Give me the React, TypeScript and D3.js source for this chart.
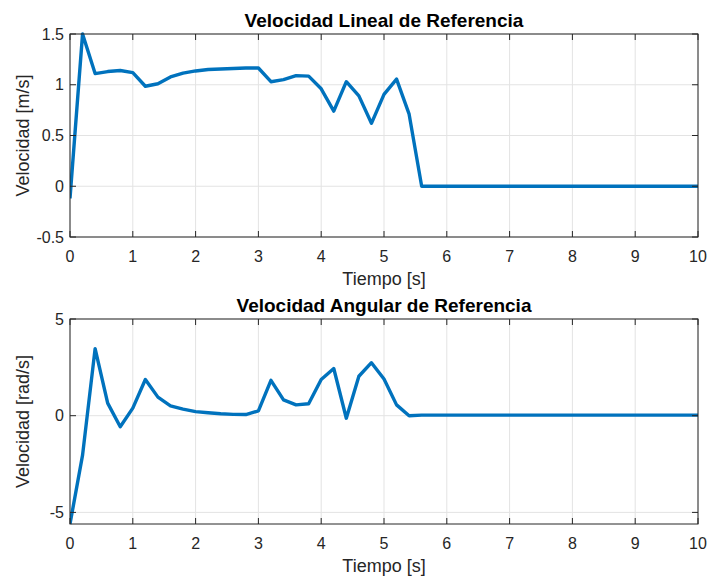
import * as d3 from "d3";

// time base, 0.2 s step
const tiempo = d3.range(0, 51).map((i) => +(i * 0.2).toFixed(1));

const velLineal = [
  -0.12, 1.5, 1.11, 1.13, 1.14, 1.12, 0.985, 1.01, 1.077, 1.115, 1.136,
  1.15, 1.155, 1.16, 1.165, 1.165, 1.03, 1.05, 1.09, 1.085, 0.96,
  0.74, 1.03, 0.89, 0.62, 0.905, 1.055, 0.71, 0, 0, 0,
  0, 0, 0, 0, 0, 0, 0, 0, 0, 0,
  0, 0, 0, 0, 0, 0, 0, 0, 0, 0,
];

const velAngular = [
  -5.6, -2.04, 3.47, 0.65, -0.57, 0.39, 1.87, 0.96, 0.51, 0.34, 0.21,
  0.15, 0.1, 0.07, 0.06, 0.25, 1.83, 0.82, 0.56, 0.62, 1.87,
  2.44, -0.13, 2.04, 2.74, 1.9, 0.56, 0.0, 0.03, 0.03, 0.03,
  0.03, 0.03, 0.03, 0.03, 0.03, 0.03, 0.03, 0.03, 0.03, 0.03,
  0.03, 0.03, 0.03, 0.03, 0.03, 0.03, 0.03, 0.03, 0.03, 0.03,
];

const xTicks = [0, 1, 2, 3, 4, 5, 6, 7, 8, 9, 10];
const yTicksLineal = [-0.5, 0, 0.5, 1, 1.5];
const yTicksAngular = [-5, 0, 5];

const FONT = "'Liberation Sans', Arial, Helvetica, sans-serif";
const AXIS = "#262626";
const GRID = "#e3e3e3";
const LINE = "#0072BD";

const left = 70;
const right = 698;

interface PanelProps {
  top: number;
  bottom: number;
  title: string;
  ylabel: string;
  values: number[];
  yDomain: [number, number];
  yTicks: number[];
}

function Panel({ top, bottom, title, ylabel, values, yDomain, yTicks }: PanelProps) {
  const x = d3.scaleLinear().domain([0, 10]).range([left, right]);
  const y = d3.scaleLinear().domain(yDomain).range([bottom, top]);
  const line = d3
    .line<number>()
    .x((_, i) => x(tiempo[i]))
    .y((d) => y(d));
  const tickLen = 6;

  return (
    <g>
      {xTicks.map((t) => (
        <line key={"gx" + t} x1={x(t)} x2={x(t)} y1={top} y2={bottom} stroke={GRID} strokeWidth={1} />
      ))}
      {yTicks.map((t) => (
        <line key={"gy" + t} x1={left} x2={right} y1={y(t)} y2={y(t)} stroke={GRID} strokeWidth={1} />
      ))}
      <defs>
        <clipPath id={"clip" + top}>
          <rect x={left} y={top - 2} width={right - left} height={bottom - top + 4} />
        </clipPath>
      </defs>
      <path
        d={line(values) ?? ""}
        fill="none"
        stroke={LINE}
        strokeWidth={3.4}
        strokeLinejoin="round"
        clipPath={`url(#clip${top})`}
      />
      <rect x={left} y={top} width={right - left} height={bottom - top} fill="none" stroke={AXIS} strokeWidth={1} />
      {xTicks.map((t) => (
        <g key={"tx" + t}>
          <line x1={x(t)} x2={x(t)} y1={bottom} y2={bottom - tickLen} stroke={AXIS} />
          <line x1={x(t)} x2={x(t)} y1={top} y2={top + tickLen} stroke={AXIS} />
          <text x={x(t)} y={bottom + 25} textAnchor="middle" fontSize={16} fill={AXIS} fontFamily={FONT}>
            {t}
          </text>
        </g>
      ))}
      {yTicks.map((t) => (
        <g key={"ty" + t}>
          <line x1={left} x2={left + tickLen} y1={y(t)} y2={y(t)} stroke={AXIS} />
          <line x1={right} x2={right - tickLen} y1={y(t)} y2={y(t)} stroke={AXIS} />
          <text x={left - 6} y={y(t) + 5.5} textAnchor="end" fontSize={16} fill={AXIS} fontFamily={FONT}>
            {t}
          </text>
        </g>
      ))}
      <text
        x={(left + right) / 2}
        y={top - 7}
        textAnchor="middle"
        fontSize={19}
        fontWeight="bold"
        fill="#000"
        fontFamily={FONT}
      >
        {title}
      </text>
      <text x={(left + right) / 2} y={bottom + 48} textAnchor="middle" fontSize={18} fill={AXIS} fontFamily={FONT}>
        Tiempo [s]
      </text>
      <text
        transform={`translate(29, ${(top + bottom) / 2}) rotate(-90)`}
        textAnchor="middle"
        fontSize={18}
        fill={AXIS}
        fontFamily={FONT}
      >
        {ylabel}
      </text>
    </g>
  );
}

export default function App() {
  return (
    <svg width={707} height={581} style={{ position: "absolute", left: 0, top: 0, background: "#fff" }}>
      <rect width={707} height={581} fill="#fff" />
      <Panel
        top={34}
        bottom={237}
        title="Velocidad Lineal de Referencia"
        ylabel="Velocidad [m/s]"
        values={velLineal}
        yDomain={[-0.5, 1.5]}
        yTicks={yTicksLineal}
      />
      <Panel
        top={319}
        bottom={524}
        title="Velocidad Angular de Referencia"
        ylabel="Velocidad [rad/s]"
        values={velAngular}
        yDomain={[-5.6, 5]}
        yTicks={yTicksAngular}
      />
    </svg>
  );
}
